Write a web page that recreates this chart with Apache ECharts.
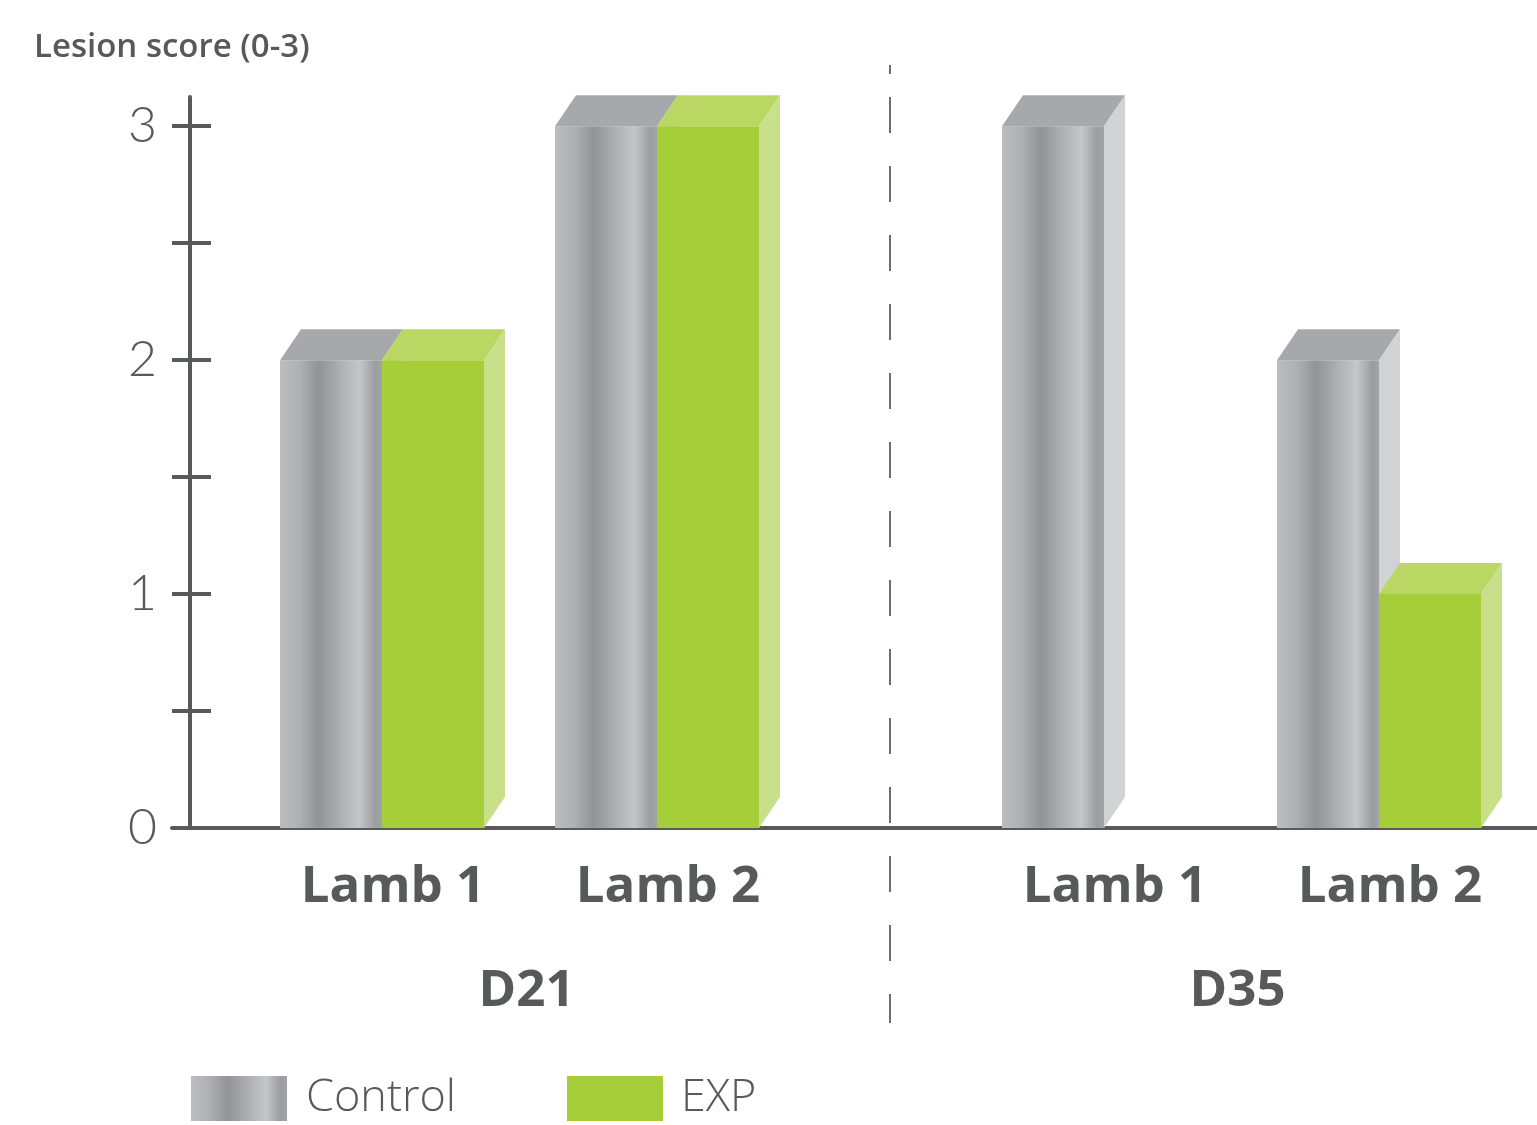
<!DOCTYPE html>
<html>
<head>
<meta charset="utf-8">
<script src="https://cdn.jsdelivr.net/npm/echarts@6/dist/echarts.min.js"></script>
<style>
  html, body { margin: 0; padding: 0; background: #fff; }
  #chart { width: 1537px; height: 1125px; }
</style>
</head>
<body>
<div id="chart"></div>
<script>
const lambs = ["Lamb 1", "Lamb 2"];
const days = ["D21", "D35"];
const controlD21 = [2, 3];
const expD21 = [2, 3];
const controlD35 = [3, 2];
const expD35 = [0, 1];
const yTicks = [0, 0.5, 1, 1.5, 2, 2.5, 3];
const yLabels = [0, 1, 2, 3];

const INK = "#58595b";
const FONT = "'Open Sans', Lato, sans-serif";
const BAR_W = 102, DX = 21, DY = 31;

const metal = {
  type: "linear", x: 0, y: 0, x2: 1, y2: 0,
  colorStops: [
    { offset: 0, color: "#bcbdc1" },
    { offset: 0.2, color: "#aeafb3" },
    { offset: 0.38, color: "#929397" },
    { offset: 0.56, color: "#aaabaf" },
    { offset: 0.78, color: "#c3c7ca" },
    { offset: 0.93, color: "#9c9da0" },
    { offset: 1, color: "#a2a3a6" },
  ],
};
const control = { front: metal, top: "#a7a8ab", side: "#d1d2d4" };
const exp = { front: "#a6ce39", top: "#b9d762", side: "#c9e08b" };

function bar3d(left, look) {
  return (params, api) => {
    const v = api.value(1);
    if (!v) return null;
    const base = api.coord([api.value(0), 0]);
    const tip = api.coord([api.value(0), v]);
    const x0 = base[0] - (left ? BAR_W : 0), x1 = x0 + BAR_W;
    const yb = base[1], yt = tip[1];
    return {
      type: "group",
      children: [
        { type: "rect", shape: { x: x0, y: yt, width: BAR_W, height: yb - yt }, style: { fill: look.front } },
        { type: "polygon", shape: { points: [[x0, yt], [x0 + DX, yt - DY], [x1 + DX, yt - DY], [x1, yt]] }, style: { fill: look.top } },
        { type: "polygon", shape: { points: [[x1, yt], [x1 + DX, yt - DY], [x1 + DX, yb - DY], [x1, yb]] }, style: { fill: look.side } },
      ],
    };
  };
}

function series(name, values, gridIdx, left, look) {
  return {
    name, type: "custom",
    xAxisIndex: gridIdx, yAxisIndex: gridIdx === 0 ? 0 : 2,
    encode: { x: 0, y: 1 },
    itemStyle: { color: look === exp ? exp.front : "#a7a8ab" },
    renderItem: bar3d(left, look),
    data: values.map((v, i) => [i, v]),
  };
}

function catAxis(gridIndex, day, namePad) {
  return {
    type: "category", gridIndex, data: lambs,
    axisLine: { show: false }, axisTick: { show: false },
    axisLabel: { margin: 34, fontSize: 51, fontWeight: "bold", color: INK, fontFamily: FONT, padding: [0, 0, 0, 22] },
    name: day, nameLocation: "middle", nameGap: 138,
    nameTextStyle: { fontSize: 51, fontWeight: "bold", color: INK, fontFamily: FONT, padding: namePad },
  };
}

const valueBase = { type: "value", min: 0, max: 3.125, splitLine: { show: false } };

const chart = echarts.init(document.getElementById("chart"));
chart.setOption({
  backgroundColor: "#fff",
  animation: false,
  title: {
    text: "Lesion score (0-3)", left: 34, top: 31, padding: 0,
    textStyle: { fontSize: 33, fontWeight: 600, color: INK, fontFamily: FONT },
  },
  grid: [
    { left: 244.5, width: 550, top: 97, height: 731, outerBoundsMode: "none" },
    { left: 966.5, width: 550, top: 97, height: 731, outerBoundsMode: "none" },
    { left: 172, width: 1365, top: 97, height: 731, outerBoundsMode: "none" },
  ],
  xAxis: [
    catAxis(0, days[0], [0, 0, 0, 14]),
    catAxis(1, days[1], [0, 8, 0, 0]),
    {
      type: "value", gridIndex: 2, min: 0, max: 1,
      axisLine: { show: true, lineStyle: { color: INK, width: 4 } },
      axisTick: { show: false }, axisLabel: { show: false }, splitLine: { show: false },
    },
  ],
  yAxis: [
    {
      ...valueBase, gridIndex: 0, position: "left", offset: 54.5,
      axisLine: { show: true, lineStyle: { color: INK, width: 4 } },
      axisTick: { show: true, inside: false, length: 18, customValues: yTicks, lineStyle: { color: INK, width: 4 } },
      axisLabel: { margin: 33, customValues: yLabels, fontSize: 50, fontWeight: 300, color: INK, fontFamily: "Lato, sans-serif" },
    },
    {
      ...valueBase, gridIndex: 0, position: "left", offset: 54.5,
      axisLine: { show: false },
      axisTick: { show: true, inside: true, length: 21, customValues: yTicks, lineStyle: { color: INK, width: 4 } },
      axisLabel: { show: false },
    },
    { ...valueBase, gridIndex: 1, show: false },
    { type: "value", gridIndex: 2, show: false },
  ],
  legend: [
    {
      left: 191, top: 1076, padding: 0, itemWidth: 96, itemHeight: 45, icon: "rect", selectedMode: false,
      data: [{ name: "Control", itemStyle: { color: metal } }],
      textStyle: { fontSize: 45, fontWeight: 300, color: INK, fontFamily: FONT, padding: [0, 0, 0, 14] },
    },
    {
      left: 567, top: 1076, padding: 0, itemWidth: 96, itemHeight: 45, icon: "rect", selectedMode: false,
      data: [{ name: "EXP", itemStyle: { color: exp.front } }],
      textStyle: { fontSize: 45, fontWeight: 300, color: INK, fontFamily: FONT, padding: [0, 0, 0, 13] },
    },
  ],
  graphic: [
    { type: "line", silent: true, shape: { x1: 890, y1: 97, x2: 890, y2: 1023 }, style: { stroke: "#6d6e71", lineWidth: 2, lineDash: [36, 33] } },
    { type: "line", silent: true, shape: { x1: 890, y1: 65, x2: 890, y2: 74 }, style: { stroke: "#6d6e71", lineWidth: 2 } },
  ],
  series: [
    series("Control", controlD21, 0, true, control),
    series("EXP", expD21, 0, false, exp),
    series("Control", controlD35, 1, true, control),
    series("EXP", expD35, 1, false, exp),
  ],
});
</script>
</body>
</html>
